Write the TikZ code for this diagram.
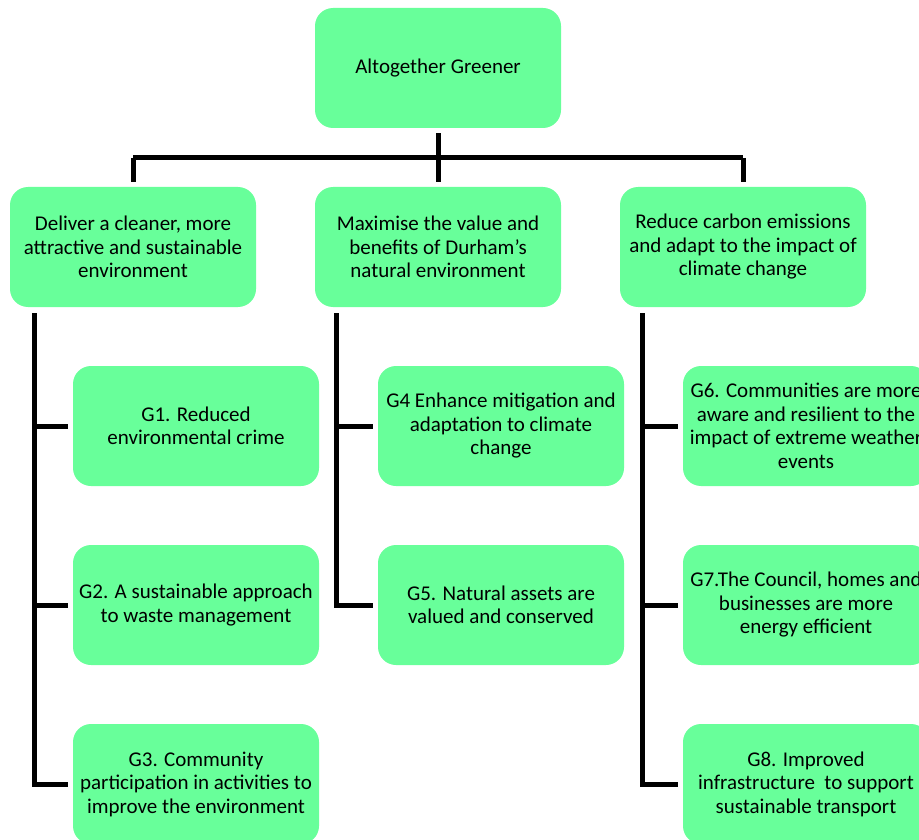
\documentclass[tikz,border=0pt]{standalone}
\usepackage{fontspec}
\setmainfont{Carlito}
\definecolor{boxgreen}{RGB}{104,255,154}
\begin{document}
\begin{tikzpicture}[x=1pt,y=-1pt,
  gbox/.style={rectangle, rounded corners=18pt, fill=boxgreen, draw=none,
    minimum width=246pt, minimum height=120pt, align=center,
    font=\fontsize{21}{23.5}\selectfont, inner sep=2pt},
  conn/.style={line width=5pt, line join=miter}]
\useasboundingbox (0,0) rectangle (919,840);
\clip (0,0) rectangle (919,840);
\node[gbox] (top) at (438,68) {Altogether Greener};
\node[gbox] (L1) at (133,247) {Deliver a cleaner, more\\attractive and sustainable\\environment};
\node[gbox] (M1) at (438,247) {Maximise the value and\\benefits of Durham’s\\natural environment};
\node[gbox] (R1) at (743,247) {Reduce carbon emissions\\and adapt to the impact of\\climate change};
\node[gbox] (G1) at (196,426) {G1. Reduced\\environmental crime};
\node[gbox] (G2) at (196,605) {G2. A sustainable approach\\to waste management};
\node[gbox] (G3) at (196,784) {G3. Community\\participation in activities to\\improve the environment};
\node[gbox] (G4) at (501,426) {G4 Enhance mitigation and\\adaptation to climate\\change};
\node[gbox] (G5) at (501,605) {G5. Natural assets are\\valued and conserved};
\node[gbox] (G6) at (806,426) {G6. Communities are more\\aware and resilient to the\\impact of extreme weather\\events};
\node[gbox] (G7) at (806,605) {G7.The Council, homes and\\businesses are more\\energy efficient};
\node[gbox] (G8) at (806,784) {G8. Improved\\infrastructure~ to support\\sustainable transport};
\coordinate (bus) at (0,158);
% top-level connectors
\draw[conn] ([yshift=-5pt]top.south) -- ([yshift=5pt]M1.north);
\draw[conn] (L1.north |- bus) -- (R1.north |- bus);
\draw[conn] (L1.north |- bus) -- ([yshift=5pt]L1.north);
\draw[conn] (R1.north |- bus) -- ([yshift=5pt]R1.north);
% column spines
\coordinate (cl) at ([xshift=25pt,yshift=-6pt]L1.south west);
\coordinate (cm) at ([xshift=22pt,yshift=-6pt]M1.south west);
\coordinate (cr) at ([xshift=23pt,yshift=-6pt]R1.south west);
\draw[conn] (cl) -- (cl |- G3.west) -- ([xshift=-5pt]G3.west);
\draw[conn] (cl |- G1.west) -- ([xshift=-5pt]G1.west);
\draw[conn] (cl |- G2.west) -- ([xshift=-5pt]G2.west);
\draw[conn] (cm) -- (cm |- G5.west) -- ([xshift=-5pt]G5.west);
\draw[conn] (cm |- G4.west) -- ([xshift=-5pt]G4.west);
\draw[conn] (cr) -- (cr |- G8.west) -- ([xshift=-5pt]G8.west);
\draw[conn] (cr |- G6.west) -- ([xshift=-5pt]G6.west);
\draw[conn] (cr |- G7.west) -- ([xshift=-5pt]G7.west);
\end{tikzpicture}
\end{document}
